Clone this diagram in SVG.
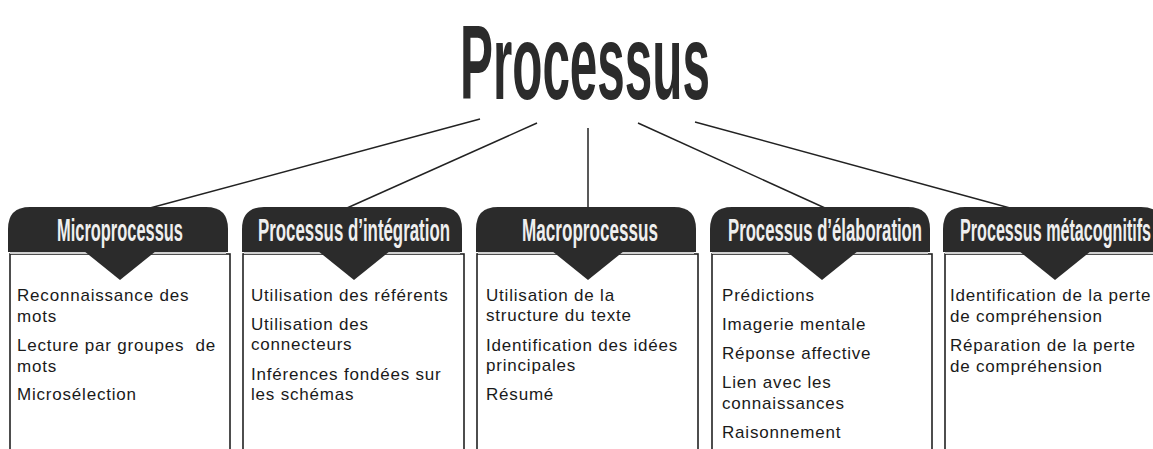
<svg xmlns="http://www.w3.org/2000/svg" width="1153" height="449" viewBox="0 0 1153 449">
  <style>
    .title { font-family: "Liberation Sans", Arial, sans-serif; font-weight: bold; font-size: 106px; fill: #2b2b2b; }
    .link { stroke: #222; stroke-width: 1.5; fill: none; }
    .tab { fill: #2b2b2b; }
    .tabline { stroke: #cfcfcf; stroke-width: 2; }
    .head { font-family: "Liberation Sans", Arial, sans-serif; font-weight: bold; font-size: 32px; fill: #efefef; }
    .box { fill: #fff; stroke: #222; stroke-width: 1.6; }
    .item { font-family: "Liberation Sans", Arial, sans-serif; font-size: 17px; letter-spacing: 0.8px; fill: #1a1a1a; }
  </style>
  <defs>
    <!-- tab header: rounded top corners, pointer below -->
    <g id="tabShape">
      <path class="tab" d="M0,45 L0,22 Q0,0 22,0 L198,0 Q220,0 220,22 L220,45 Z"/>
      <line class="tabline" x1="2" y1="46" x2="218" y2="46"/>
      <polygon class="tab" points="76,44 148,44 112,73"/>
    </g>
  </defs>

  <rect width="1153" height="449" fill="#fff"/>

  <g id="title">
    <text class="title" transform="translate(460,99) scale(0.5,1)" x="0" y="0" textLength="500" lengthAdjust="spacingAndGlyphs">Processus</text>
  </g>

  <g id="connectors">
    <line class="link" x1="480" y1="119" x2="150" y2="208"/>
    <line class="link" x1="537" y1="123" x2="347" y2="208"/>
    <line class="link" x1="588" y1="128" x2="588" y2="208"/>
    <line class="link" x1="638" y1="123" x2="825" y2="208"/>
    <line class="link" x1="695" y1="122" x2="1010" y2="208"/>
  </g>

  <g id="micro">
    <rect class="box" x="10" y="254" width="220" height="220"/>
    <use href="#tabShape" x="8" y="207"/>
    <text class="head" transform="translate(57,241) scale(0.52,1)" x="0" y="0" textLength="242.3" lengthAdjust="spacingAndGlyphs">Microprocessus</text>
    <text class="item" x="17" y="301">Reconnaissance des</text>
    <text class="item" x="17" y="322">mots</text>
    <text class="item" x="17" y="351">Lecture par groupes&#160; de</text>
    <text class="item" x="17" y="372">mots</text>
    <text class="item" x="17" y="400">Microsélection</text>
  </g>

  <g id="integration">
    <rect class="box" x="243" y="254" width="221" height="220"/>
    <use href="#tabShape" x="242" y="207"/>
    <text class="head" transform="translate(258,241) scale(0.52,1)" x="0" y="0" textLength="369.2" lengthAdjust="spacingAndGlyphs">Processus d’intégration</text>
    <text class="item" x="251" y="301">Utilisation des référents</text>
    <text class="item" x="251" y="330">Utilisation des</text>
    <text class="item" x="251" y="350">connecteurs</text>
    <text class="item" x="251" y="380">Inférences fondées sur</text>
    <text class="item" x="251" y="400">les schémas</text>
  </g>

  <g id="macro">
    <rect class="box" x="477" y="254" width="221" height="220"/>
    <use href="#tabShape" x="476" y="207"/>
    <text class="head" transform="translate(522,241) scale(0.52,1)" x="0" y="0" textLength="261.5" lengthAdjust="spacingAndGlyphs">Macroprocessus</text>
    <text class="item" x="486" y="301">Utilisation de la</text>
    <text class="item" x="486" y="321">structure du texte</text>
    <text class="item" x="486" y="351">Identification des idées</text>
    <text class="item" x="486" y="371">principales</text>
    <text class="item" x="486" y="400">Résumé</text>
  </g>

  <g id="elaboration">
    <rect class="box" x="712" y="254" width="220" height="220"/>
    <use href="#tabShape" x="710" y="207"/>
    <text class="head" transform="translate(728,241) scale(0.52,1)" x="0" y="0" textLength="373.1" lengthAdjust="spacingAndGlyphs">Processus d’élaboration</text>
    <text class="item" x="722" y="301">Prédictions</text>
    <text class="item" x="722" y="330">Imagerie mentale</text>
    <text class="item" x="722" y="359">Réponse affective</text>
    <text class="item" x="722" y="388">Lien avec les</text>
    <text class="item" x="722" y="409">connaissances</text>
    <text class="item" x="722" y="438">Raisonnement</text>
  </g>

  <g id="metacognitive">
    <rect class="box" x="945" y="254" width="220" height="220"/>
    <use href="#tabShape" x="943" y="207"/>
    <text class="head" transform="translate(960,241) scale(0.49,1)" x="0" y="0" textLength="390" lengthAdjust="spacingAndGlyphs">Processus métacognitifs</text>
    <text class="item" x="950" y="301">Identification de la perte</text>
    <text class="item" x="950" y="322">de compréhension</text>
    <text class="item" x="950" y="351">Réparation de la perte</text>
    <text class="item" x="950" y="372">de compréhension</text>
  </g>
</svg>
